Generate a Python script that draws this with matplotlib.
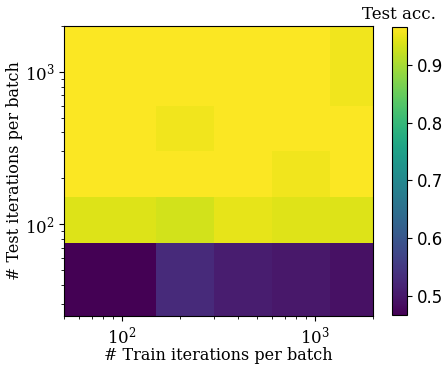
import numpy as np
import matplotlib
matplotlib.use("Agg")
import matplotlib.pyplot as plt

plt.rcParams['font.family'] = 'DejaVu Serif'
plt.rcParams['mathtext.fontset'] = 'dejavuserif'

# iterations per batch (cell centres)
train_iters = [100, 200, 400, 800, 1600]
test_iters = [50, 100, 200, 400, 800, 1600]

# test accuracy, rows = test iterations, cols = train iterations
acc = np.array([
    [0.467, 0.527, 0.507, 0.500, 0.490],
    [0.940, 0.932, 0.947, 0.942, 0.940],
    [0.963, 0.963, 0.963, 0.955, 0.963],
    [0.963, 0.955, 0.963, 0.963, 0.963],
    [0.963, 0.963, 0.963, 0.963, 0.955],
    [0.963, 0.963, 0.963, 0.963, 0.955],
])

fig = plt.figure(figsize=(4.48, 3.66), dpi=100)
ax = fig.add_axes([0.143, 0.137, 0.690, 0.792])
cax = fig.add_axes([0.874, 0.140, 0.034, 0.786])

mesh = ax.pcolormesh(train_iters, test_iters, acc, shading='nearest',
                     cmap='viridis', vmin=0.467, vmax=0.966)
ax.set_xscale('log')
ax.set_yscale('log')
ax.set_xlim(50, 2000)
ax.set_ylim(25, 2000)
ax.set_xlabel('# Train iterations per batch', fontsize=11.5, labelpad=0)
ax.set_ylabel('# Test iterations per batch', fontsize=11.5, labelpad=1)
ax.tick_params(labelsize=12)

cb = fig.colorbar(mesh, cax=cax)
cb.set_ticks([0.5, 0.6, 0.7, 0.8, 0.9])
for t in cax.get_yticklabels():
    t.set_family('DejaVu Sans')
    t.set_fontsize(12)
cax.set_title('Test acc.', fontsize=12)

fig.savefig('out.png', dpi=100)
